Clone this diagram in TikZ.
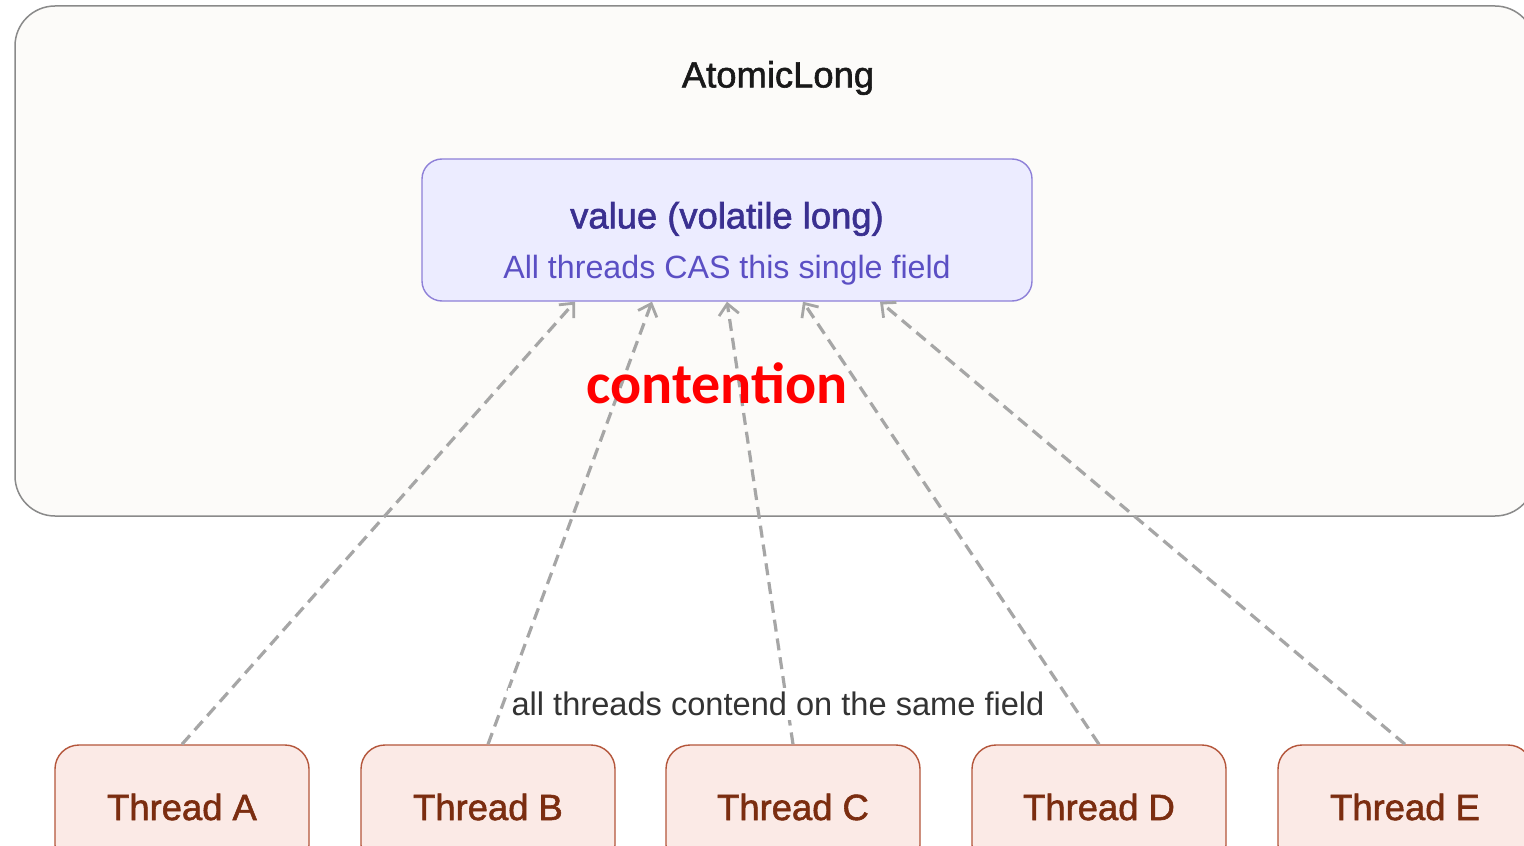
\documentclass[tikz,border=0pt]{standalone}
\usepackage{fontspec}
\setmainfont{Liberation Sans}
\newfontfamily\medfont[FakeBold=1.6]{Liberation Sans}
\newfontfamily\calibold{Carlito}
\usetikzlibrary{arrows.meta,calc}
\definecolor{outerfill}{HTML}{FCFBF9}
\definecolor{outerdraw}{HTML}{8A8A8A}
\definecolor{valfill}{HTML}{ECECFF}
\definecolor{valdraw}{HTML}{8E80D8}
\definecolor{valtext}{HTML}{3A3090}
\definecolor{valsub}{HTML}{5B4FC4}
\definecolor{thfill}{HTML}{FBEAE6}
\definecolor{thdraw}{HTML}{B4553A}
\definecolor{thtext}{HTML}{7B2D10}
\definecolor{linkcol}{HTML}{A6A6A6}
\definecolor{labtext}{HTML}{333333}
\tikzset{
  outerbox/.style={draw=outerdraw, fill=outerfill, line width=0.75pt, rounded corners=20pt, inner sep=0pt},
  valbox/.style={draw=valdraw, fill=valfill, line width=0.7pt, rounded corners=10pt, minimum width=305pt, minimum height=71pt, inner sep=0pt, align=center},
  threadbox/.style={draw=thdraw, fill=thfill, line width=0.7pt, rounded corners=12pt, minimum width=127pt, minimum height=62pt, inner sep=0pt, text=thtext, font=\medfont\fontsize{18.2}{20}\selectfont},
  link/.style={draw=linkcol, line width=1.6pt, dash pattern=on 6pt off 3.5pt, -{Straight Barb[length=5.5pt,width=10pt,line width=1.4pt]}},
}
\begin{document}
\begin{tikzpicture}[x=0.5pt,y=-0.5pt]
\useasboundingbox (0,0) rectangle (1524,845);
\clip (0,0) rectangle (1524,845);
\fill[white] (0,0) rectangle (1524,845);
\node[outerbox, minimum width=760pt, minimum height=255pt] (outer) at (775,261) {};
\node[font=\medfont\fontsize{18.2}{20}\selectfont, text=black!90] (title) at (778,78) {AtomicLong};
\node[valbox] (val) at (727,230) {};
\node[font=\medfont\fontsize{18.2}{20}\selectfont, text=valtext] (valt) at (727,219) {value (volatile long)};
\node[font=\fontsize{16.1}{18}\selectfont, text=valsub] (vals) at (727,270) {All threads CAS this single field};
\node[threadbox] (ta) at (182,807) {Thread A};
\node[threadbox] (tb) at (488,807) {Thread B};
\node[threadbox] (tc) at (793,807) {Thread C};
\node[threadbox] (td) at (1099,807) {Thread D};
\node[threadbox] (te) at (1405,807) {Thread E};
\draw[link] (ta.north) -- ($(val.south)+(-152,0)$);
\draw[link] (tb.north) -- ($(val.south)+(-75,0)$);
\draw[link] (tc.north) -- ($(val.south)+(0,0)$);
\draw[link] (td.north) -- ($(val.south)+(76,0)$);
\draw[link] (te.north) -- ($(val.south)+(153,0)$);
\node[fill=white, inner sep=2pt, text=labtext, font=\fontsize{16.3}{18}\selectfont] (lab) at (778,704) {all threads contend on the same field};
\node[text=red, font=\calibold\bfseries\fontsize{29}{30}\selectfont] (cont) at (717,383) {contention};
\end{tikzpicture}
\end{document}
